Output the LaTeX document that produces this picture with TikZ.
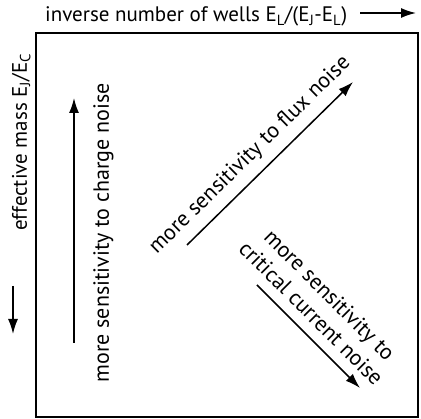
\documentclass[tikz,border=0pt]{standalone}
\usepackage{fontspec}
\setmainfont{PT Sans}
\usetikzlibrary{arrows.meta,positioning,calc}

\begin{document}
\begin{tikzpicture}[
    x=1pt, y=-1pt,
    lbl/.style={font=\fontsize{22}{26}\selectfont, inner sep=0pt},
    axlbl/.style={font=\fontsize{21}{25}\selectfont, inner sep=0pt},
    arr/.style={-{Latex[length=15pt,width=10pt]}, line width=1.5pt}
]
    \useasboundingbox (0,0) rectangle (421,419);
    \draw[line width=1.8pt] (36,33) rectangle (418,417);

    % axes
    \node[axlbl, anchor=base west] (xlabel) at (45,22) {inverse number of wells E\textsubscript{L}/(E\textsubscript{J}-E\textsubscript{L})};
    \coordinate (xa) at (360,13);
    \coordinate (xb) at (416,13);
    \draw[arr] (xa) -- (xb);

    \node[axlbl, rotate=90, anchor=base west] (ylabel) at (27,231) {effective mass E\textsubscript{J}/E\textsubscript{C}};
    \coordinate (ya) at (13,286);
    \coordinate (yb) at (13,334);
    \draw[arr] (ya) -- (yb);

    % charge noise
    \coordinate (q0) at (74,343);
    \coordinate (q1) at (74,98);
    \draw[arr] (q0) -- (q1);
    \node[lbl, rotate=90, anchor=north] (charge) at ($(q0)!0.45!(q1)+(19,0)$) {more sensitivity to charge noise};

    % flux noise
    \coordinate (f0) at (187,245);
    \coordinate (f1) at (353,82);
    \draw[arr] (f0) -- node[lbl, sloped, above=9pt, pos=0.464] (flux) {more sensitivity to flux noise} (f1);

    % critical current noise
    \coordinate (c0) at (257,285);
    \coordinate (c1) at (360,388);
    \draw[arr] (c0) -- node[lbl, sloped, above=10pt, pos=0.40, align=center] (crit) {more sensitivity to\\critical current noise} (c1);
\end{tikzpicture}
\end{document}
